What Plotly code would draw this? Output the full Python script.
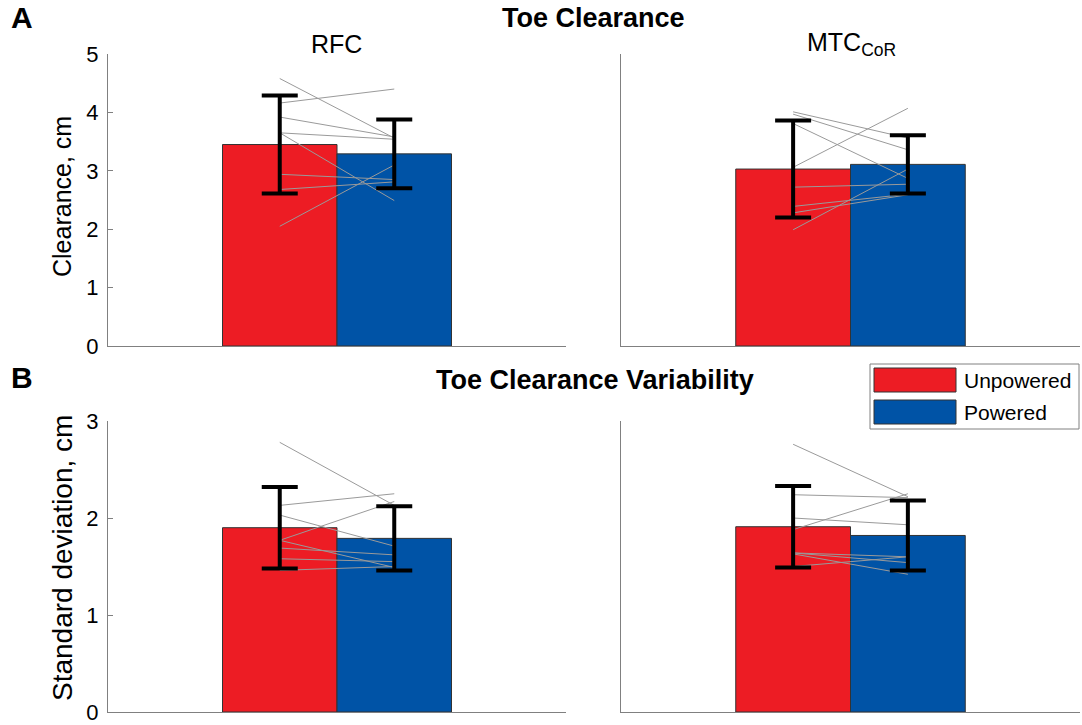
import plotly.graph_objects as go

# ---------------- data ----------------
conditions = ["Unpowered", "Powered"]
panel_titles = ["RFC", "MTC<sub>CoR</sub>"]

# individual subjects, toe clearance (cm)
rfc_unpowered = [4.58, 4.16, 3.92, 3.65, 3.65, 2.94, 2.68, 2.05]
rfc_powered = [3.56, 4.40, 3.58, 3.54, 2.49, 2.85, 2.81, 3.10]
mtc_unpowered = [4.01, 3.97, 3.81, 3.06, 2.72, 2.39, 2.28, 1.99]
mtc_powered = [3.56, 3.36, 2.87, 4.07, 2.77, 2.60, 2.59, 3.03]

# individual subjects, toe clearance variability (SD, cm)
rfc_sd_unpowered = [2.78, 2.13, 2.03, 1.77, 1.77, 1.69, 1.58, 1.46]
rfc_sd_powered = [2.13, 2.25, 1.71, 2.17, 1.49, 1.62, 1.55, 1.50]
mtc_sd_unpowered = [2.76, 2.24, 2.00, 1.88, 1.64, 1.64, 1.63, 1.50]
mtc_sd_powered = [2.22, 2.21, 1.93, 2.25, 1.60, 1.54, 1.42, 1.60]

# group means and error bars [RFC, MTC]
clear_mean_unpowered = [3.45, 3.03]
clear_mean_powered = [3.29, 3.11]
clear_err_unpowered = [0.84, 0.83]
clear_err_powered = [0.59, 0.50]

var_mean_unpowered = [1.90, 1.91]
var_mean_powered = [1.79, 1.82]
var_err_unpowered = [0.42, 0.42]
var_err_powered = [0.33, 0.36]

clear_ticks = [0, 1, 2, 3, 4, 5]
var_ticks = [0, 1, 2, 3]

# ---------------- style ----------------
RED = "#ED1C24"
BLUE = "#0053A6"
AXC = "#808080"
FONT = "Liberation Sans, Arial, sans-serif"
W, H = 1082, 725

fig = go.Figure()

panels = [
    ("", rfc_unpowered, rfc_powered, clear_mean_unpowered[0], clear_mean_powered[0],
     clear_err_unpowered[0], clear_err_powered[0]),
    ("2", mtc_unpowered, mtc_powered, clear_mean_unpowered[1], clear_mean_powered[1],
     clear_err_unpowered[1], clear_err_powered[1]),
    ("3", rfc_sd_unpowered, rfc_sd_powered, var_mean_unpowered[0], var_mean_powered[0],
     var_err_unpowered[0], var_err_powered[0]),
    ("4", mtc_sd_unpowered, mtc_sd_powered, var_mean_unpowered[1], var_mean_powered[1],
     var_err_unpowered[1], var_err_powered[1]),
]

for i, (s, up, pw, mu, mp, eu, ep) in enumerate(panels):
    xa, ya = "x" + s, "y" + s
    fig.add_trace(go.Bar(x=[1], y=[mu], width=1, name=conditions[0],
                         marker=dict(color=RED, line=dict(color="#333333", width=1)),
                         showlegend=False, xaxis=xa, yaxis=ya))
    fig.add_trace(go.Bar(x=[2], y=[mp], width=1, name=conditions[1],
                         marker=dict(color=BLUE, line=dict(color="#333333", width=1)),
                         showlegend=False, xaxis=xa, yaxis=ya))
    lx, ly = [], []
    for a, b in zip(up, pw):
        lx += [1, 2, None]
        ly += [a, b, None]
    fig.add_trace(go.Scatter(x=lx, y=ly, mode="lines", line=dict(color="#9a9a9a", width=1),
                             showlegend=False, hoverinfo="skip", xaxis=xa, yaxis=ya))
    fig.add_trace(go.Scatter(x=[1, 2], y=[mu, mp], mode="markers",
                             marker=dict(size=1, color="black"),
                             error_y=dict(type="data", array=[eu, ep], color="black",
                                          thickness=4, width=18),
                             showlegend=False, xaxis=xa, yaxis=ya))

xdom_l = [108 / W, 566 / W]
xdom_r = [621 / W, 1080 / W]
ydom_a = [1 - 346 / H, 1 - 54 / H]
ydom_b = [1 - 712 / H, 1 - 421 / H]

xcommon = dict(range=[-0.5, 3.5], showline=True, linecolor=AXC, linewidth=1,
               showticklabels=False, ticks="", showgrid=False, zeroline=False,
               automargin=False)
ycommon = dict(showline=True, linecolor=AXC, linewidth=1, showgrid=False, zeroline=False,
               automargin=False, tickfont=dict(size=22, color="black", family=FONT))

fig.update_layout(
    xaxis=dict(domain=xdom_l, anchor="y", **xcommon),
    xaxis2=dict(domain=xdom_r, anchor="y2", **xcommon),
    xaxis3=dict(domain=xdom_l, anchor="y3", **xcommon),
    xaxis4=dict(domain=xdom_r, anchor="y4", **xcommon),
    yaxis=dict(domain=ydom_a, anchor="x", range=[0, 5], tickvals=clear_ticks,
               ticks="inside", ticklen=5, tickcolor=AXC, ticklabelstandoff=4, **ycommon),
    yaxis2=dict(domain=ydom_a, anchor="x2", range=[0, 5], showticklabels=False, ticks="",
                **ycommon),
    yaxis3=dict(domain=ydom_b, anchor="x3", range=[0, 3], tickvals=var_ticks,
                ticks="inside", ticklen=5, tickcolor=AXC, ticklabelstandoff=4, **ycommon),
    yaxis4=dict(domain=ydom_b, anchor="x4", range=[0, 3], showticklabels=False, ticks="",
                **ycommon),
    barmode="overlay",
    width=W, height=H,
    margin=dict(l=0, r=0, t=0, b=0, autoexpand=False),
    paper_bgcolor="white", plot_bgcolor="white",
    font=dict(family=FONT, color="black"),
    showlegend=False,
)

def px(x):
    return x / W

def py(y):
    return 1 - y / H

annots = [
    dict(text="<b>A</b>", x=22, y=18, size=30),
    dict(text="<b>B</b>", x=22, y=377, size=30),
    dict(text="<b>Toe Clearance</b>", x=593, y=18, size=27),
    dict(text="<b>Toe Clearance Variability</b>", x=595, y=380, size=27),
    dict(text=panel_titles[0], x=336, y=44, size=25),
    dict(text=panel_titles[1], x=851, y=44, size=25),
    dict(text="Clearance, cm", x=62, y=196, size=25, angle=-90),
    dict(text="Standard deviation, cm", x=62, y=558, size=28, angle=-90),
]
for a in annots:
    fig.add_annotation(text=a["text"], x=px(a["x"]), y=py(a["y"]), xref="paper", yref="paper",
                       xanchor="center", yanchor="middle", textangle=a.get("angle", 0),
                       showarrow=False, font=dict(size=a["size"], family=FONT, color="black"))

# legend box (drawn to mimic the reference's wide patches)
fig.add_shape(type="rect", xref="paper", yref="paper", x0=px(870), x1=px(1079),
              y0=py(429), y1=py(364), line=dict(color="#808080", width=1), fillcolor="white")
legend_colors = [RED, BLUE]
legend_rows = [380, 412]
for name, col, yc in zip(conditions, legend_colors, legend_rows):
    fig.add_shape(type="rect", xref="paper", yref="paper", x0=px(874), x1=px(956),
                  y0=py(yc + 12), y1=py(yc - 12), line=dict(color="#333333", width=1),
                  fillcolor=col)
    fig.add_annotation(text=name, x=px(962), y=py(yc), xref="paper", yref="paper",
                       xanchor="left", yanchor="middle", showarrow=False,
                       font=dict(size=21, family=FONT, color="black"))

fig.write_html("out.html")
